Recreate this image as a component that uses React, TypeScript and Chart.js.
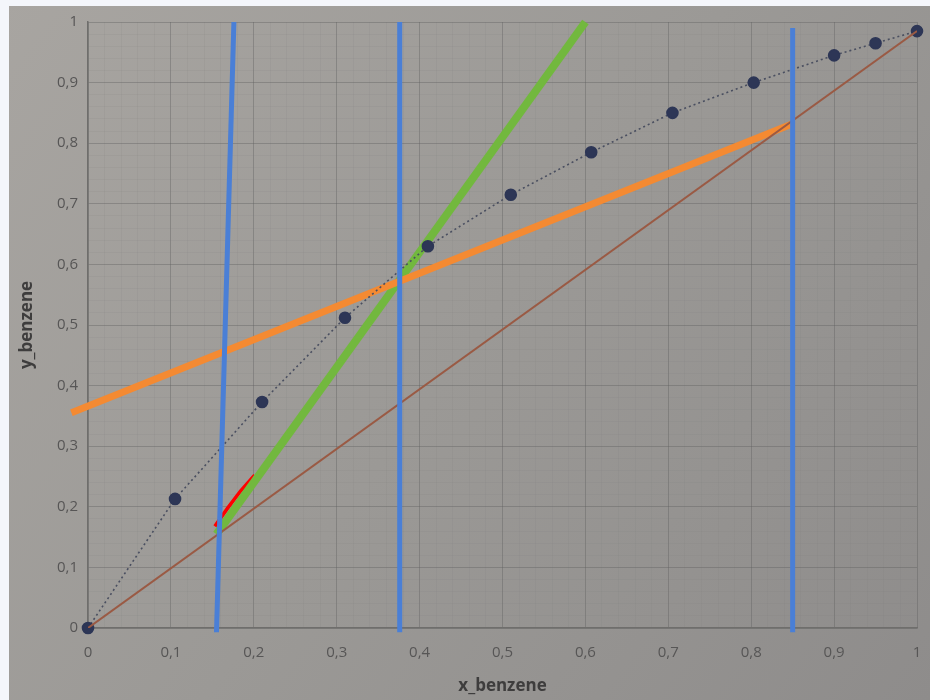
import React, { useEffect, useRef } from "react";
import { Chart, registerables } from "chart.js";

Chart.register(...registerables);

// Equilibrium curve (dots joined by dotted line)
const eqX = [0, 0.105, 0.21, 0.31, 0.41, 0.51, 0.607, 0.705, 0.803, 0.9, 0.95, 1];
const eqY = [0, 0.213, 0.373, 0.512, 0.63, 0.715, 0.785, 0.85, 0.9, 0.945, 0.965, 0.985];

// Diagonal y = x
const diagX = [0, 1];
const diagY = [0, 0.985];

// Orange operating line
const orangeX = [-0.02, 0.85];
const orangeY = [0.355, 0.832];

// Green operating line
const greenX = [0.155, 0.6];
const greenY = [0.155, 1.0];

// Red hand-drawn segment
const redX = [0.153, 0.168, 0.184, 0.201];
const redY = [0.168, 0.197, 0.226, 0.252];

// Blue vertical lines
const blueLeftX = [0.155, 0.176];
const blueLeftY = [-0.007, 1.0];
const blueMidX = [0.376, 0.376];
const blueMidY = [-0.007, 1.0];
const blueRightX = [0.85, 0.85];
const blueRightY = [-0.007, 0.99];

// Black vertical line
const blackX = [0.376, 0.376];
const blackY = [0.355, 1.0];

// Tick labels (multiples of 0.1)
const tickLabels = ["0", "0,1", "0,2", "0,3", "0,4", "0,5", "0,6", "0,7", "0,8", "0,9", "1"];

const xTitle = "x_benzene";
const yTitle = "y_benzene";

const pts = (xs: number[], ys: number[]) => xs.map((x, i) => ({ x, y: ys[i] }));

const bgPlugin = {
  id: "photoBg",
  beforeDraw(chart: any) {
    const { ctx, width, height } = chart;
    ctx.save();
    ctx.fillStyle = "#f4f6fb";
    ctx.fillRect(0, 0, width, height);
    const g = ctx.createLinearGradient(0, 0, width, height);
    g.addColorStop(0, "#a8a5a1");
    g.addColorStop(0.5, "#9b9996");
    g.addColorStop(1, "#8e8c8b");
    ctx.fillStyle = g;
    ctx.fillRect(9, 6, width - 9, height - 6);
    ctx.restore();
  },
};

const isMajor = (v: number) => Math.round(v * 50) % 5 === 0;

export default function App() {
  const ref = useRef<HTMLCanvasElement | null>(null);

  useEffect(() => {
    if (!ref.current) return;
    const blue = "#4a7fd6";
    const gridColor = (c: any) =>
      c.tick && isMajor(c.tick.value) ? "rgba(95,95,95,0.4)" : "rgba(120,120,120,0.12)";
    const chart = new Chart(ref.current, {
      type: "scatter",
      data: {
        datasets: [
          { data: pts(blueLeftX, blueLeftY), showLine: true, borderColor: blue, borderWidth: 5, pointRadius: 0, clip: false as any },
          { data: pts(blueMidX, blueMidY), showLine: true, borderColor: blue, borderWidth: 5, pointRadius: 0, clip: false as any },
          { data: pts(blueRightX, blueRightY), showLine: true, borderColor: blue, borderWidth: 5, pointRadius: 0, clip: false as any },
          { data: pts(diagX, diagY), showLine: true, borderColor: "#9a5a44", borderWidth: 2, pointRadius: 0 },
          {
            data: pts(eqX, eqY),
            showLine: true,
            borderColor: "#4a4f60",
            borderWidth: 1.6,
            borderDash: [2, 3],
            pointRadius: 5.5,
            pointBackgroundColor: "#2d3656",
            pointBorderColor: "#2d3656",
            clip: false as any,
          },
          { data: pts(orangeX, orangeY), showLine: true, borderColor: "#f48a32", borderWidth: 7, pointRadius: 0, clip: false as any },
          { data: pts(greenX, greenY), showLine: true, borderColor: "#72b83e", borderWidth: 8, pointRadius: 0, clip: false as any },
          { data: pts(blackX, blackY), showLine: true, borderColor: "#111522", borderWidth: 2.5, pointRadius: 0, clip: false as any },
          { data: pts(redX, redY), showLine: true, borderColor: "#ff0000", borderWidth: 3.5, pointRadius: 0 },
        ],
      },
      options: {
        responsive: false,
        animation: false,
        layout: { padding: { left: 0, top: 22, right: 13, bottom: 0 } },
        plugins: { legend: { display: false }, tooltip: { enabled: false } },
        scales: {
          x: {
            type: "linear",
            min: 0,
            max: 1,
            afterFit: (s: any) => {
              s.height = 72;
              s.paddingLeft = 0;
              s.paddingRight = 0;
            },
            border: { display: true, color: "#6f6e6c", width: 1.5 },
            grid: { drawTicks: false, color: gridColor, lineWidth: 1 },
            ticks: {
              stepSize: 0.02,
              autoSkip: false,
              maxRotation: 0,
              padding: 16,
              color: "#575656",
              font: { family: "Open Sans", size: 15 },
              callback: (v: any) => (isMajor(Number(v)) ? tickLabels[Math.round(Number(v) * 10)] : ""),
            },
            title: {
              display: true,
              text: xTitle,
              color: "#3e3d3d",
              font: { family: "Open Sans", size: 17, weight: "bold" },
              padding: { top: 0, bottom: 4 },
            },
          },
          y: {
            type: "linear",
            min: 0,
            max: 1,
            afterFit: (s: any) => {
              s.width = 88;
              s.paddingTop = 0;
              s.paddingBottom = 0;
            },
            border: { display: true, color: "#6f6e6c", width: 1.5 },
            grid: { drawTicks: false, color: gridColor, lineWidth: 1 },
            ticks: {
              stepSize: 0.02,
              autoSkip: false,
              padding: 10,
              color: "#575656",
              font: { family: "Open Sans", size: 15 },
              callback: (v: any) => (isMajor(Number(v)) ? tickLabels[Math.round(Number(v) * 10)] : ""),
            },
            title: {
              display: true,
              text: yTitle,
              color: "#3e3d3d",
              font: { family: "Open Sans", size: 17, weight: "bold" },
              padding: { top: 17, bottom: 0 },
            },
          },
        },
      },
      plugins: [bgPlugin],
    } as any);
    return () => chart.destroy();
  }, []);

  return (
    <div style={{ position: "fixed", left: 0, top: 0, width: 930, height: 700 }}>
      <canvas ref={ref} width={930} height={700} style={{ display: "block" }} />
    </div>
  );
}
